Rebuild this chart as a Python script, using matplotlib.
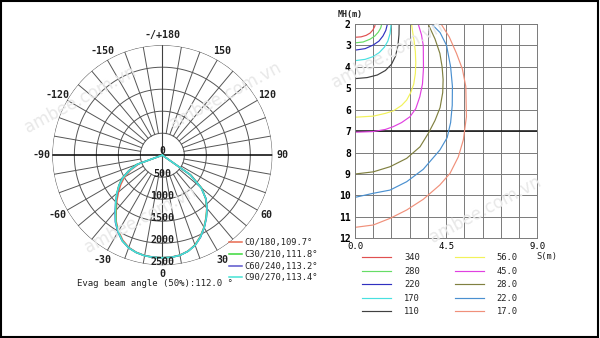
import numpy as np
import matplotlib.pyplot as plt
from matplotlib.patches import Rectangle

MONO = 'DejaVu Sans Mono'

# ---- luminous intensity distribution (cd), lower hemisphere, 5 deg steps
angles = list(range(-90, 91, 5))
c0_180 = [0, 0, 0, 0, 560, 790, 990, 1150, 1300, 1460, 1630, 1830, 1990, 2130, 2230, 2285, 2315, 2325,
          2330, 2325, 2305, 2255, 2170, 2040, 1890, 1730, 1570, 1390, 1170, 800, 0, 0, 0, 0, 0, 0, 0]
c30_210 = [0, 0, 0, 0, 620, 850, 1060, 1210, 1350, 1490, 1650, 1850, 2010, 2150, 2240, 2290, 2320, 2330,
           2330, 2330, 2310, 2260, 2175, 2050, 1900, 1740, 1580, 1400, 1160, 780, 0, 0, 0, 0, 0, 0, 0]
c60_240 = [0, 0, 0, 0, 600, 840, 1050, 1200, 1340, 1500, 1670, 1860, 2020, 2150, 2240, 2290, 2320, 2330,
           2330, 2330, 2310, 2260, 2180, 2055, 1905, 1745, 1585, 1405, 1150, 770, 0, 0, 0, 0, 0, 0, 0]
c90_270 = [0, 0, 0, 0, 600, 830, 1040, 1200, 1350, 1500, 1660, 1850, 2010, 2150, 2240, 2290, 2320, 2330,
           2330, 2330, 2310, 2260, 2180, 2050, 1900, 1740, 1580, 1400, 1150, 760, 0, 0, 0, 0, 0, 0, 0]
polar_labels = ['C0/180,109.7°', 'C30/210,111.8°', 'C60/240,113.2°', 'C90/270,113.4°']
polar_colors = ['#e8694f', '#3ad83a', '#5a55cc', '#45e3d5']
ring_values = [500, 1000, 1500, 2000, 2500]
angle_ticks = [0, 30, 60, 90, 120, 150, 180, -150, -120, -90, -60, -30]

# ---- isolux curves: S (m) vs mounting height MH (m)
lux_levels = ['340', '280', '220', '170', '110', '56.0', '45.0', '28.0', '22.0', '17.0']
lux_colors = ['#e05050', '#66dd66', '#3030c0', '#48e0e0', '#404040',
              '#f2f25a', '#e040e0', '#808040', '#4a90d0', '#f0907a']
curve_s = [
    [0, 0.3, 0.55, 0.75, 0.88, 0.97, 1.0],
    [0, 0.4, 0.74, 0.98, 1.15, 1.27, 1.32],
    [0, 0.5, 0.9, 1.18, 1.38, 1.52, 1.6],
    [0, 0.5, 0.9, 1.2, 1.45, 1.62, 1.73, 1.78],
    [0, 0.6, 1.1, 1.5, 1.8, 2.0, 2.12, 2.17, 2.18],
    [0, 0.9, 1.5, 1.9, 2.3, 2.55, 2.75, 2.9, 2.98, 3.0, 2.98, 2.92, 2.85, 2.79],
    [0, 0.9, 1.5, 1.89, 2.3, 2.71, 3.0, 3.2, 3.33, 3.38, 3.37, 3.28, 3.12],
    [0, 0.9, 1.73, 2.55, 3.21, 3.62, 3.95, 4.2, 4.33, 4.35, 4.3, 4.19, 3.95, 3.61],
    [0, 0.9, 1.73, 2.55, 3.37, 4.19, 4.55, 4.72, 4.8, 4.81, 4.72, 4.52, 4.2, 3.78],
    [0, 0.9, 1.73, 2.55, 3.37, 4.19, 4.69, 5.1, 5.35, 5.5, 5.47, 5.3, 5.01, 4.65, 4.25],
]
curve_mh = [
    [2.62, 2.6, 2.53, 2.42, 2.28, 2.12, 2.0],
    [2.88, 2.84, 2.71, 2.56, 2.38, 2.18, 2.0],
    [3.22, 3.15, 2.98, 2.8, 2.56, 2.3, 2.0],
    [3.71, 3.65, 3.52, 3.33, 3.08, 2.8, 2.45, 2.0],
    [4.55, 4.5, 4.38, 4.17, 3.88, 3.5, 3.0, 2.5, 2.0],
    [6.35, 6.3, 6.17, 6.05, 5.8, 5.55, 5.2, 4.8, 4.3, 3.8, 3.3, 2.8, 2.4, 2.0],
    [7.05, 7.02, 6.92, 6.79, 6.6, 6.33, 5.95, 5.39, 4.8, 4.07, 3.0, 2.5, 2.0],
    [9.0, 8.9, 8.66, 8.27, 7.73, 7.1, 6.5, 5.9, 5.2, 4.6, 4.0, 3.37, 2.7, 2.0],
    [10.09, 9.9, 9.75, 9.36, 8.78, 7.88, 7.3, 6.6, 5.8, 4.92, 4.0, 3.0, 2.4, 2.0],
    [11.49, 11.38, 11.07, 10.68, 10.18, 9.51, 8.97, 8.2, 7.4, 6.33, 4.92, 4.1, 3.37, 2.6, 2.0],
]

fig = plt.figure(figsize=(6, 3.38), dpi=100)

# ---------------- polar diagram ----------------
ax = fig.add_axes([0.0872, 0.2154, 0.3667, 0.6509], projection='polar')
ax.set_theta_zero_location('S')
ax.set_theta_direction(1)
ax.set_ylim(0, 2500)
ax.set_axis_off()

full = np.linspace(0, 2 * np.pi, 361)
for rv in ring_values:
    ax.plot(full, np.full_like(full, rv), color='#555555', lw=0.7, zorder=1)
for a in range(0, 360, 10):
    t = np.deg2rad(a)
    if a % 90 == 0:
        continue
    ax.plot([t, t], [500, 2500], color='#555555', lw=0.7, zorder=1)
# main axes through the centre
ax.plot([np.pi / 2, np.pi / 2], [0, 2500], color='black', lw=1.1, zorder=2)
ax.plot([-np.pi / 2, -np.pi / 2], [0, 2500], color='black', lw=1.1, zorder=2)
ax.plot([0, 0], [0, 2500], color='#404040', lw=0.8, zorder=2)
ax.plot([np.pi, np.pi], [0, 2500], color='#404040', lw=0.8, zorder=2)

theta = np.deg2rad(angles)
for vals, lab, col in zip([c0_180, c30_210, c60_240, c90_270], polar_labels, polar_colors):
    ax.plot(theta, vals, color=col, lw=1.1, label=lab, zorder=3)

for a in angle_ticks:
    txt = '-/+180' if a == 180 else str(a)
    r = 2700 if a == 0 else 2740
    ax.text(np.deg2rad(a), r, txt, ha='center', va='center', fontsize=7.2,
            family=MONO, fontweight='bold', color='#222222', clip_on=False)
for rv in ring_values:
    ax.text(0, rv - 80, str(rv), ha='center', va='center', fontsize=7.2,
            family=MONO, fontweight='bold', color='#222222', zorder=4)
ax.text(np.pi, 100, '0', ha='center', va='center', fontsize=7,
        family=MONO, fontweight='bold', color='#222222', zorder=4)

fig.text(155 / 600, 1 - 283 / 338, 'Evag beam angle (50%):112.0 °', ha='center', va='center',
         fontsize=6.5, family=MONO, color='#222222')
ax.legend(loc='upper left', bbox_to_anchor=(229 / 600, 1 - 238.5 / 338),
          bbox_transform=fig.transFigure, frameon=False, prop={'family': MONO, 'size': 6.3},
          handlelength=1.5, handletextpad=0.3, labelspacing=0.3, borderpad=0, borderaxespad=0,
          labelcolor='#222222')

# ---------------- isolux diagram ----------------
bx = fig.add_axes([0.5917, 0.295, 0.3038, 0.634])
bx.set_xlim(0, 9)
bx.set_ylim(12, 2)
bx.set_xticks([0, 4.5, 9])
bx.set_xticklabels(['0.0', '4.5', '9.0'])
bx.set_xticks(np.arange(0, 9.01, 0.9), minor=True)
bx.set_yticks(range(2, 13))
bx.grid(True, which='both', color='#7a7a7a', lw=0.7)
bx.axhline(7, color='#111111', lw=1.1)
bx.tick_params(which='both', length=0)
bx.tick_params(axis='x', pad=2.5, labelsize=6.5)
bx.tick_params(axis='y', pad=3, labelsize=7)
for lbl in bx.get_xticklabels():
    lbl.set_family(MONO)
for lbl in bx.get_yticklabels():
    lbl.set_family(MONO)
    lbl.set_fontweight('bold')
for sp in bx.spines.values():
    sp.set_color('#7a7a7a')
    sp.set_linewidth(0.7)

for s, mh, lab, col in zip(curve_s, curve_mh, lux_levels, lux_colors):
    bx.plot(s, mh, color=col, lw=0.85, label=lab)

fig.text(338 / 600, 1 - 15 / 338, 'MH(m)', ha='left', va='center', fontsize=6, family=MONO,
         fontweight='bold', color='#222222')
fig.text(546.7 / 600, 1 - 256 / 338, 'S(m)', ha='center', va='center', fontsize=6.3, family=MONO,
         color='#222222')
bx.legend(loc='upper left', ncol=2, bbox_to_anchor=(362 / 600, 1 - 253.5 / 338),
          bbox_transform=fig.transFigure, frameon=False, prop={'family': MONO, 'size': 6.3},
          handlelength=3.3, handletextpad=1.5, columnspacing=4.0, labelspacing=0.5,
          borderpad=0, borderaxespad=0, labelcolor='#222222')

# faint site watermark
for x, y in [(80, 100), (225, 96), (140, 220), (387, 55), (485, 210)]:
    fig.text(x / 600, 1 - y / 338, 'ambee.com.vn', ha='center', va='center', fontsize=12,
             rotation=28, color='#e8e8e8', zorder=0)

fig.add_artist(Rectangle((0.002, 0.004), 0.994, 0.993, transform=fig.transFigure,
                         fill=False, ec='black', lw=1.5))

fig.savefig('out.png', dpi=100, facecolor='white')
